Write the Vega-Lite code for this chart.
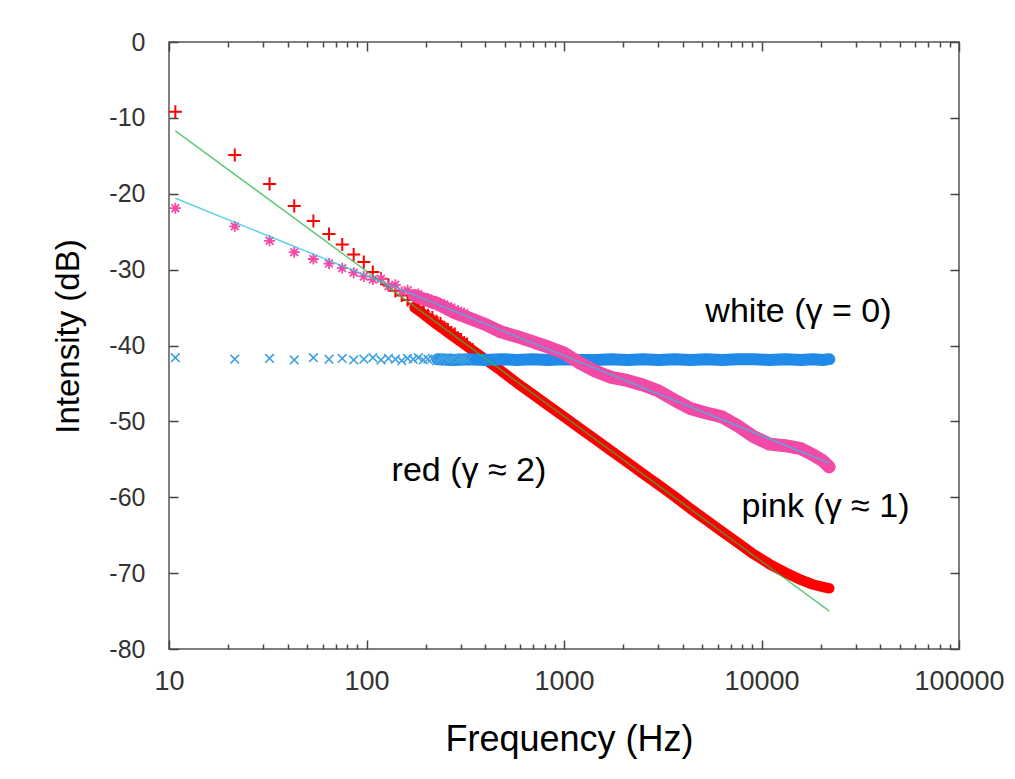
{
  "$schema": "https://vega.github.io/schema/vega-lite/v6.json",
  "width": 790,
  "height": 607,
  "autosize": {"type": "none"},
  "padding": {"left": 169, "top": 42, "right": 56, "bottom": 130},
  "background": "white",
  "config": {"view": {"stroke": "#555", "strokeWidth": 1.5}, "font": "Liberation Sans"},
  "datasets": {
    "pts": [
      {"f": 10.77, "r": -9.2, "p": -21.9, "w": -41.6},
      {"f": 21.53, "r": -14.9, "p": -24.3, "w": -41.8},
      {"f": 32.30, "r": -18.7, "p": -26.2, "w": -41.7},
      {"f": 43.07, "r": -21.6, "p": -27.7, "w": -41.9},
      {"f": 53.83, "r": -23.6, "p": -28.6, "w": -41.6},
      {"f": 64.60, "r": -25.3, "p": -29.2, "w": -41.8},
      {"f": 75.37, "r": -26.7, "p": -29.8, "w": -41.7},
      {"f": 86.13, "r": -28.0, "p": -30.4, "w": -41.9},
      {"f": 96.90, "r": -29.0, "p": -30.9, "w": -41.8},
      {"f": 107.67, "r": -30.3, "p": -31.3, "w": -41.6},
      {"f": 118.43, "r": -31.2, "p": -31.2, "w": -41.9},
      {"f": 129.20, "r": -32.0, "p": -32.2, "w": -41.7},
      {"f": 139.97, "r": -32.8, "p": -32.0, "w": -41.8},
      {"f": 150.73, "r": -33.4, "p": -32.9, "w": -42.0},
      {"f": 161.50, "r": -34.0, "p": -32.7, "w": -41.7},
      {"f": 172.27, "r": -34.5, "p": -33.5, "w": -41.8},
      {"f": 183.03, "r": -35.0, "p": -33.2, "w": -41.6},
      {"f": 193.80, "r": -35.5, "p": -34.0, "w": -41.9},
      {"f": 204.57, "r": -36.0, "p": -33.8, "w": -41.8},
      {"f": 215.33, "r": -36.3, "p": -34.5, "w": -41.7},
      {"f": 226.10, "r": -36.8, "p": -34.2, "w": -42.0},
      {"f": 236.87, "r": -37.1, "p": -34.9, "w": -41.8},
      {"f": 247.63, "r": -37.6, "p": -34.6, "w": -41.7},
      {"f": 258.40, "r": -37.9, "p": -35.3, "w": -41.9},
      {"f": 269.17, "r": -38.3, "p": -35.0, "w": -41.8},
      {"f": 279.93, "r": -38.5, "p": -35.7, "w": -41.6},
      {"f": 290.70, "r": -39.0, "p": -35.4, "w": -41.9},
      {"f": 301.47, "r": -39.2, "p": -36.0, "w": -41.8},
      {"f": 312.23, "r": -39.6, "p": -35.7, "w": -41.7},
      {"f": 323.00, "r": -39.8, "p": -36.3, "w": -41.9}
    ],
    "band": [
      {"f": 175.0, "r": -35.0, "p": -33.4},
      {"f": 190.5, "r": -35.7, "p": -33.8},
      {"f": 229.1, "r": -37.3, "p": -34.5, "w": -41.8},
      {"f": 275.4, "r": -38.8, "p": -35.6, "w": -41.9},
      {"f": 331.1, "r": -40.3, "p": -36.4, "w": -41.8},
      {"f": 398.1, "r": -41.8, "p": -37.2, "w": -41.9},
      {"f": 478.6, "r": -43.3, "p": -38.2, "w": -41.8},
      {"f": 575.4, "r": -44.9, "p": -38.8, "w": -41.9},
      {"f": 691.8, "r": -46.4, "p": -39.5, "w": -41.8},
      {"f": 831.8, "r": -47.9, "p": -40.2, "w": -41.9},
      {"f": 1000, "r": -49.4, "p": -41.0, "w": -41.8},
      {"f": 1202, "r": -50.9, "p": -42.3, "w": -41.9},
      {"f": 1445, "r": -52.4, "p": -43.4, "w": -41.9},
      {"f": 1738, "r": -53.9, "p": -44.2, "w": -41.8},
      {"f": 2089, "r": -55.4, "p": -44.6, "w": -41.9},
      {"f": 2512, "r": -56.9, "p": -45.2, "w": -41.8},
      {"f": 3020, "r": -58.4, "p": -46.0, "w": -41.9},
      {"f": 3631, "r": -59.9, "p": -47.2, "w": -41.8},
      {"f": 4365, "r": -61.5, "p": -48.3, "w": -41.9},
      {"f": 5248, "r": -63.0, "p": -48.9, "w": -41.8},
      {"f": 6310, "r": -64.5, "p": -49.4, "w": -41.9},
      {"f": 7586, "r": -66.0, "p": -50.6, "w": -41.8},
      {"f": 9120, "r": -67.5, "p": -52.0, "w": -41.8},
      {"f": 10965, "r": -68.8, "p": -53.0, "w": -41.9},
      {"f": 13183, "r": -69.9, "p": -53.2, "w": -41.8},
      {"f": 15849, "r": -70.9, "p": -53.6, "w": -41.9},
      {"f": 18197, "r": -71.5, "p": -54.4, "w": -41.8},
      {"f": 20417, "r": -71.8, "p": -55.2, "w": -41.9},
      {"f": 22030, "r": -72.0, "p": -56.0, "w": -41.8}
    ],
    "fit": [
      {"f": 10.77, "g": -11.7, "c": -20.6},
      {"f": 22050, "g": -75.0, "c": -55.5}
    ],
    "notes": [
      {"f": 15380, "db": -36.85, "t": "white (γ  = 0)"},
      {"f": 330, "db": -57.8, "t": "red (γ  ≈ 2)"},
      {"f": 21090, "db": -62.6, "t": "pink (γ  ≈ 1)"}
    ]
  },
  "layer": [
    {
      "data": {"name": "band"},
      "mark": {"type": "line", "color": "#ff0000", "strokeWidth": 10.5, "strokeCap": "round", "strokeJoin": "round"},
      "encoding": {
        "x": {
          "field": "f", "type": "quantitative",
          "scale": {"type": "log", "domain": [10, 100000], "nice": false},
          "axis": {
            "orient": "bottom",
            "values": [10, 20, 30, 40, 50, 60, 70, 80, 90, 100, 200, 300, 400, 500, 600, 700, 800, 900, 1000, 2000, 3000, 4000, 5000, 6000, 7000, 8000, 9000, 10000, 20000, 30000, 40000, 50000, 60000, 70000, 80000, 90000, 100000],
            "labelExpr": "indexof([10, 100, 1000, 10000, 100000], datum.value) >= 0 ? format(datum.value, 'd') : ''",
            "tickSize": {"condition": {"test": "indexof([10, 100, 1000, 10000, 100000], datum.value) >= 0", "value": -9}, "value": -5},
            "tickColor": "#444",
            "tickWidth": 1.5,
            "domain": false,
            "grid": false,
            "labelFont": "Liberation Sans",
            "labelFontSize": 27,
            "labelColor": "#333",
            "labelPadding": 28,
            "labelFlush": false,
            "labelOverlap": false,
            "title": "Frequency (Hz)",
            "titleFont": "Liberation Sans",
            "titleFontSize": 36,
            "titleFontWeight": "normal",
            "titleColor": "#000",
            "titleX": 400,
            "titleY": 101,
            "titleAlign": "center",
            "titleBaseline": "alphabetic"
          }
        },
        "y": {
          "field": "r", "type": "quantitative",
          "scale": {"domain": [-80, 0], "nice": false},
          "axis": {
            "orient": "left",
            "values": [-80, -70, -60, -50, -40, -30, -20, -10, 0],
            "labelExpr": "(datum.value < 0 ? '-' : '') + abs(datum.value)",
            "tickSize": -9,
            "tickColor": "#444",
            "tickWidth": 1.5,
            "domain": false,
            "grid": false,
            "labelFont": "Liberation Sans",
            "labelFontSize": 25,
            "labelColor": "#333",
            "labelPadding": 33,
            "labelFlush": false,
            "labelOverlap": false,
            "title": "Intensity (dB)",
            "titleFont": "Liberation Sans",
            "titleFontSize": 33,
            "titleFontWeight": "normal",
            "titleColor": "#000",
            "titleAngle": -90,
            "titleX": -91,
            "titleY": 294,
            "titleAlign": "center",
            "titleBaseline": "alphabetic"
          }
        }
      }
    },
    {
      "data": {"name": "pts"},
      "mark": {"type": "point", "shape": "M-1,0H1M0,-1V1", "filled": false, "color": "#ff0000", "strokeWidth": 2, "size": 170, "opacity": 1},
      "encoding": {
        "x": {
          "field": "f", "type": "quantitative",
          "axis": {
            "orient": "top",
            "values": [10, 20, 30, 40, 50, 60, 70, 80, 90, 100, 200, 300, 400, 500, 600, 700, 800, 900, 1000, 2000, 3000, 4000, 5000, 6000, 7000, 8000, 9000, 10000, 20000, 30000, 40000, 50000, 60000, 70000, 80000, 90000, 100000],
            "labels": false,
            "tickSize": {"condition": {"test": "indexof([10, 100, 1000, 10000, 100000], datum.value) >= 0", "value": -9}, "value": -5},
            "tickColor": "#444",
            "tickWidth": 1.5,
            "domain": false,
            "grid": false,
            "title": null
          }
        },
        "y": {
          "field": "r", "type": "quantitative",
          "axis": {
            "orient": "right",
            "values": [-80, -70, -60, -50, -40, -30, -20, -10, 0],
            "labels": false,
            "tickSize": -9,
            "tickColor": "#444",
            "tickWidth": 1.5,
            "domain": false,
            "grid": false,
            "title": null
          }
        }
      }
    },
    {
      "data": {"name": "band"},
      "mark": {"type": "line", "color": "#1f8ae8", "strokeWidth": 12, "strokeCap": "round", "strokeJoin": "round"},
      "encoding": {
        "x": {"field": "f", "type": "quantitative", "axis": null},
        "y": {"field": "w", "type": "quantitative", "axis": null}
      }
    },
    {
      "data": {"name": "pts"},
      "mark": {"type": "point", "shape": "M-1,-1L1,1M-1,1L1,-1", "filled": false, "color": "#3ea0e0", "strokeWidth": 1.6, "size": 75, "opacity": 1},
      "encoding": {
        "x": {"field": "f", "type": "quantitative", "axis": null},
        "y": {"field": "w", "type": "quantitative", "axis": null}
      }
    },
    {
      "data": {"name": "band"},
      "mark": {"type": "line", "color": "#f24aa6", "strokeWidth": 13, "strokeCap": "round", "strokeJoin": "round"},
      "encoding": {
        "x": {"field": "f", "type": "quantitative", "axis": null},
        "y": {"field": "p", "type": "quantitative", "axis": null}
      }
    },
    {
      "data": {"name": "pts"},
      "mark": {"type": "point", "shape": "M-1,0H1M0,-1V1M-0.7,-0.7L0.7,0.7M-0.7,0.7L0.7,-0.7", "filled": false, "color": "#f24aa6", "strokeWidth": 1.8, "size": 120, "opacity": 1},
      "encoding": {
        "x": {"field": "f", "type": "quantitative", "axis": null},
        "y": {"field": "p", "type": "quantitative", "axis": null}
      }
    },
    {
      "data": {"name": "fit"},
      "mark": {"type": "line", "color": "#2db84a", "strokeWidth": 1.5, "opacity": 0.75},
      "encoding": {
        "x": {"field": "f", "type": "quantitative", "axis": null},
        "y": {"field": "g", "type": "quantitative", "axis": null}
      }
    },
    {
      "data": {"name": "fit"},
      "mark": {"type": "line", "color": "#29c3e6", "strokeWidth": 1.5, "opacity": 0.75},
      "encoding": {
        "x": {"field": "f", "type": "quantitative", "axis": null},
        "y": {"field": "c", "type": "quantitative", "axis": null}
      }
    },
    {
      "data": {"name": "notes"},
      "mark": {"type": "text", "font": "Liberation Sans", "fontSize": 34, "color": "#000", "align": "center", "baseline": "alphabetic"},
      "encoding": {
        "x": {"field": "f", "type": "quantitative", "axis": null},
        "y": {"field": "db", "type": "quantitative", "axis": null},
        "text": {"field": "t"}
      }
    }
  ],
  "resolve": {"axis": {"x": "independent", "y": "independent"}}
}
